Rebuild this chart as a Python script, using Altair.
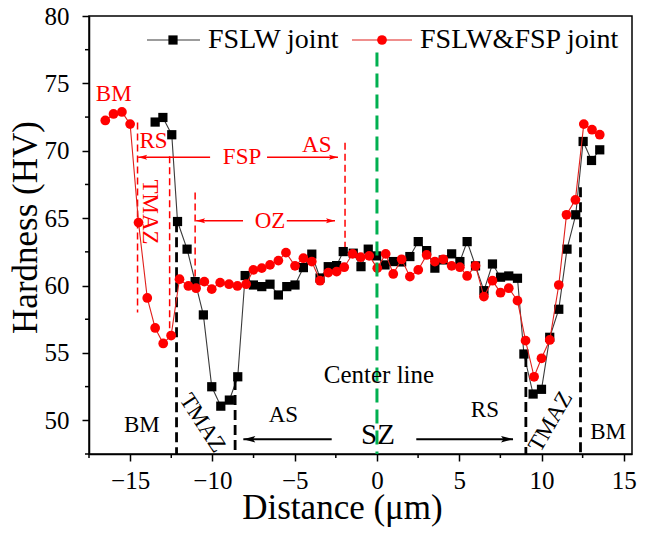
import altair as alt
import pandas as pd

# ---------------- data ----------------
x_fslw = [-13.48,-13.01,-12.47,-12.12,-11.54,-11.05,-10.55,-10.04,-9.49,-8.97,-8.46,-8.01,-7.51,-7.00,-6.50,-5.99,-5.48,-4.98,-4.47,-3.96,-3.46,-2.96,-2.45,-2.05,-1.44,-0.97,-0.53,-0.02,0.49,0.99,1.50,2.00,2.51,3.02,3.52,4.03,4.54,5.04,5.48,5.99,6.50,7.02,7.51,8.01,8.54,8.93,9.49,10.00,10.50,11.05,11.55,12.08,12.53,13.04,13.54]
y_fslw = [72.13,72.47,71.19,64.75,62.70,60.29,57.82,52.49,51.05,51.50,53.23,60.74,60.04,59.92,60.10,59.30,59.92,60.04,61.33,62.33,60.56,61.40,61.48,62.52,62.40,61.40,62.70,62.20,61.53,61.78,61.75,62.15,63.26,62.59,61.29,61.90,62.35,61.78,63.26,61.46,59.62,61.60,60.62,60.71,60.54,54.92,51.95,52.30,56.16,58.24,62.70,65.25,70.69,69.28,70.07]

x_fsp = [-16.51,-16.01,-15.50,-15.00,-14.49,-13.96,-13.48,-12.99,-12.51,-12.00,-11.46,-10.99,-10.49,-10.04,-9.53,-8.99,-8.48,-7.95,-7.51,-7.00,-6.50,-5.99,-5.53,-4.98,-4.47,-3.96,-3.46,-2.96,-2.45,-1.99,-1.48,-0.99,-0.47,0.02,0.53,0.99,1.50,2.00,2.51,3.02,3.52,4.03,4.54,5.04,5.48,5.99,6.50,7.02,7.51,8.01,8.54,9.03,9.55,10.00,10.50,11.05,11.52,12.06,12.57,13.07,13.54]
y_fsp = [72.25,72.73,72.88,71.98,64.67,59.08,56.85,55.70,56.29,60.47,59.97,59.80,60.29,59.73,60.22,60.10,59.97,60.10,61.16,61.29,61.53,61.85,62.44,61.46,62.03,61.78,60.36,60.96,61.03,61.36,62.35,62.10,62.20,61.29,62.35,60.86,61.95,60.66,61.16,62.27,61.78,61.95,61.46,61.36,60.71,61.46,59.18,60.36,59.47,59.80,58.88,55.91,53.23,54.60,55.96,60.04,65.25,66.36,71.98,71.56,71.19]

series_names = ["FSLW joint", "FSLW&FSP joint"]

# axis ticks
x_major = [-15, -10, -5, 0, 5, 10, 15]
x_minor = [-17.5, -12.5, -7.5, -2.5, 2.5, 7.5, 12.5]
y_major = [50, 55, 60, 65, 70, 75, 80]
y_minor = [47.5, 52.5, 57.5, 62.5, 67.5, 72.5, 77.5]

# zone boundary lines
black_vx = [-12.18, -8.62, 9.05, 12.37]
black_vtop = [64.7, 53.0, 54.7, 67.3]
red_vx = [-14.55, -12.6, -11.05, -1.94]
red_vtop = [72.1, 69.6, 66.9, 70.6]
red_vbot = [58.0, 56.2, 60.2, 62.8]
center_x = [0.0]
center_top = [77.3]

# arrows: shaft start/end (end = head)
red_arrow_x1 = [-10.14, -6.68, -8.14, -5.48]
red_arrow_x2 = [-14.51, -2.37, -10.99, -2.55]
red_arrow_y = [69.52, 69.52, 64.8, 64.8]
black_arrow_x1 = [-2.75, 2.39]
black_arrow_x2 = [-8.12, 8.27]
black_arrow_y = [48.6, 48.6]

# text labels
red_txt = ["BM", "RS", "FSP", "AS", "OZ"]
red_txt_x = [-16.0, -13.58, -8.2, -3.66, -6.5]
red_txt_y = [74.23, 70.69, 69.52, 70.45, 64.8]
red_tmaz_x = [-13.78]
red_tmaz_y = [65.46]
black_txt = ["BM", "AS", "RS", "BM"]
black_txt_x = [-14.29, -5.69, 6.56, 14.05]
black_txt_y = [49.64, 50.39, 50.77, 49.15]
center_lbl_x = [0.12]
center_lbl_y = [53.36]
sz_x = [0.06]
sz_y = [48.9]
tmaz_l_x = [-10.6]
tmaz_l_y = [49.8]
tmaz_r_x = [10.55]
tmaz_r_y = [49.9]

# ---------------- chart ----------------
FONT = "Liberation Serif"
RED = "#ff0000"
GREEN = "#00b050"
W, H = 543, 438

xs = alt.Scale(domain=[-17.5, 15.5], nice=False, zero=False)
ys = alt.Scale(domain=[47.5, 80], nice=False, zero=False)

x_axis = alt.Axis(
    title="Distance (μm)",
    values=x_major,
    format="d",
    grid=False,
    tickSize=7,
    tickColor="black", tickWidth=1.5,
    domainColor="black", domainWidth=1.5,
    labelFont=FONT, labelFontSize=25, labelColor="black", labelPadding=7,
    labelFlush=False, labelOverlap=False,
    titleFont=FONT, titleFontSize=35, titleFontWeight="normal", titleColor="black",
    titleX=253, titleY=64, titleBaseline="alphabetic", titleAnchor="middle",
)
y_axis = alt.Axis(
    title="Hardness (HV)",
    values=y_major,
    format="d",
    grid=False,
    tickSize=7,
    tickColor="black", tickWidth=1.5,
    domainColor="black", domainWidth=1.5,
    labelFont=FONT, labelFontSize=25, labelColor="black", labelPadding=13,
    labelFlush=False, labelOverlap=False,
    titleFont=FONT, titleFontSize=35, titleFontWeight="normal", titleColor="black",
    titleX=-64, titleY=H / 2 - 8, titleBaseline="middle", titleAnchor="middle", titleAngle=270,
)


def XQ(f="x"):
    return alt.X(f + ":Q", scale=xs, axis=x_axis)


def YQ(f="y"):
    return alt.Y(f + ":Q", scale=ys, axis=y_axis)


df_b = pd.DataFrame({"x": x_fslw, "y": y_fslw})
df_r = pd.DataFrame({"x": x_fsp, "y": y_fsp})

black_line = alt.Chart(df_b).mark_line(color="#3a3a3a", strokeWidth=1.1).encode(x=XQ(), y=YQ())
black_pts = alt.Chart(df_b).mark_point(shape="square", filled=True, color="black", size=85, opacity=1).encode(
    x=XQ(), y=YQ())
red_line = alt.Chart(df_r).mark_line(color="#e0201c", strokeWidth=1.1).encode(x=XQ(), y=YQ())
red_pts = alt.Chart(df_r).mark_point(shape="circle", filled=True, color=RED, size=95, opacity=1).encode(
    x=XQ(), y=YQ())

# minor ticks
mx = pd.DataFrame({"x": x_minor})
minor_x = alt.Chart(mx).mark_rule(color="black", strokeWidth=1.5).encode(
    x=XQ(), y=alt.value(H), y2=alt.value(H + 4))
my = pd.DataFrame({"y": y_minor})
minor_y = alt.Chart(my).mark_rule(color="black", strokeWidth=1.5).encode(
    y=YQ(), x=alt.value(0), x2=alt.value(-4))

bl = pd.DataFrame({"x": black_vx, "y": black_vtop, "y2": [47.5] * len(black_vx)})
black_vlines = alt.Chart(bl).mark_rule(color="black", strokeWidth=2.8, strokeDash=[10, 5]).encode(
    x=XQ(), y=YQ(), y2="y2:Q")
rl = pd.DataFrame({"x": red_vx, "y": red_vtop, "y2": red_vbot})
red_vlines = alt.Chart(rl).mark_rule(color=RED, strokeWidth=1.5, strokeDash=[7, 4]).encode(
    x=XQ(), y=YQ(), y2="y2:Q")
gl = pd.DataFrame({"x": center_x, "y": center_top, "y2": [47.5]})
green_line = alt.Chart(gl).mark_rule(color=GREEN, strokeWidth=3, strokeDash=[14, 7]).encode(
    x=XQ(), y=YQ(), y2="y2:Q")

HEAD_R = "M0,0 L-2,-0.55 L-1.6,0 L-2,0.55 Z"
HEAD_L = "M0,0 L2,-0.55 L1.6,0 L2,0.55 Z"

ra = pd.DataFrame({"x": red_arrow_x1, "x2": red_arrow_x2, "y": red_arrow_y})
red_shafts = alt.Chart(ra).mark_rule(color=RED, strokeWidth=1.5).encode(x=XQ(), x2="x2:Q", y=YQ())
red_heads_r = alt.Chart(ra[ra.x2 > ra.x]).mark_point(shape=HEAD_R, filled=True, color=RED, size=81, opacity=1).encode(
    x=XQ("x2"), y=YQ())
red_heads_l = alt.Chart(ra[ra.x2 < ra.x]).mark_point(shape=HEAD_L, filled=True, color=RED, size=81, opacity=1).encode(
    x=XQ("x2"), y=YQ())

ba = pd.DataFrame({"x": black_arrow_x1, "x2": black_arrow_x2, "y": black_arrow_y})
black_shafts = alt.Chart(ba).mark_rule(color="black", strokeWidth=2).encode(x=XQ(), x2="x2:Q", y=YQ())
black_heads_r = alt.Chart(ba[ba.x2 > ba.x]).mark_point(shape=HEAD_R, filled=True, color="black", size=144, opacity=1).encode(
    x=XQ("x2"), y=YQ())
black_heads_l = alt.Chart(ba[ba.x2 < ba.x]).mark_point(shape=HEAD_L, filled=True, color="black", size=144, opacity=1).encode(
    x=XQ("x2"), y=YQ())

rt = pd.DataFrame({"x": red_txt_x, "y": red_txt_y, "t": red_txt})
red_text = alt.Chart(rt).mark_text(font=FONT, fontSize=23, color=RED, baseline="middle", align="center").encode(
    x=XQ(), y=YQ(), text="t:N")
rtm = pd.DataFrame({"x": red_tmaz_x, "y": red_tmaz_y, "t": ["TMAZ"]})
red_tmaz = alt.Chart(rtm).mark_text(font=FONT, fontSize=23, color=RED, baseline="middle", align="center", angle=90).encode(
    x=XQ(), y=YQ(), text="t:N")

bt = pd.DataFrame({"x": black_txt_x, "y": black_txt_y, "t": black_txt})
black_text = alt.Chart(bt).mark_text(font=FONT, fontSize=23, color="black", baseline="middle", align="center").encode(
    x=XQ(), y=YQ(), text="t:N")
cl = pd.DataFrame({"x": center_lbl_x, "y": center_lbl_y, "t": ["Center line"]})
center_text = alt.Chart(cl).mark_text(font=FONT, fontSize=25, color="black", baseline="middle", align="center").encode(
    x=XQ(), y=YQ(), text="t:N")
szd = pd.DataFrame({"x": sz_x, "y": sz_y, "t": ["SZ"]})
sz_text = alt.Chart(szd).mark_text(font=FONT, fontSize=29, color="black", baseline="middle", align="center").encode(
    x=XQ(), y=YQ(), text="t:N")
tl = pd.DataFrame({"x": tmaz_l_x, "y": tmaz_l_y, "t": ["TMAZ"]})
tmaz_l = alt.Chart(tl).mark_text(font=FONT, fontSize=23, color="black", baseline="middle", align="center", angle=57).encode(
    x=XQ(), y=YQ(), text="t:N")
tr = pd.DataFrame({"x": tmaz_r_x, "y": tmaz_r_y, "t": ["TMAZ"]})
tmaz_r = alt.Chart(tr).mark_text(font=FONT, fontSize=23, color="black", baseline="middle", align="center", angle=300).encode(
    x=XQ(), y=YQ(), text="t:N")

# manual legend (pixel layout)
one = pd.DataFrame({"a": [0]})
LY = 24
leg = [
    alt.Chart(one).mark_rule(color="#3a3a3a", strokeWidth=1.2).encode(x=alt.value(58), x2=alt.value(111), y=alt.value(LY)),
    alt.Chart(one).mark_point(shape="square", filled=True, color="black", size=85, opacity=1).encode(x=alt.value(84), y=alt.value(LY)),
    alt.Chart(one).mark_text(font=FONT, fontSize=28, color="black", align="left", baseline="middle").encode(
        x=alt.value(119), y=alt.value(LY), text=alt.value(series_names[0])),
    alt.Chart(one).mark_rule(color="#e0201c", strokeWidth=1.2).encode(x=alt.value(263), x2=alt.value(323), y=alt.value(LY)),
    alt.Chart(one).mark_point(shape="circle", filled=True, color=RED, size=95, opacity=1).encode(x=alt.value(293), y=alt.value(LY)),
    alt.Chart(one).mark_text(font=FONT, fontSize=28, color="black", align="left", baseline="middle").encode(
        x=alt.value(331), y=alt.value(LY), text=alt.value(series_names[1])),
]

chart = alt.layer(
    black_line,
    minor_x, minor_y,
    black_vlines, red_vlines,
    black_pts, red_line, red_pts,
    green_line,
    red_shafts, red_heads_r, red_heads_l,
    black_shafts, black_heads_r, black_heads_l,
    red_text, red_tmaz, black_text, center_text, sz_text, tmaz_l, tmaz_r,
    *leg,
).properties(
    width=W, height=H,
    autosize=alt.AutoSizeParams(type="none"),
    padding={"left": 81, "top": 8, "right": 6, "bottom": 76},
    background="white",
).configure_view(stroke="black", strokeWidth=1.5)

chart.save("out.html", embed_options={"renderer": "svg", "actions": False})
